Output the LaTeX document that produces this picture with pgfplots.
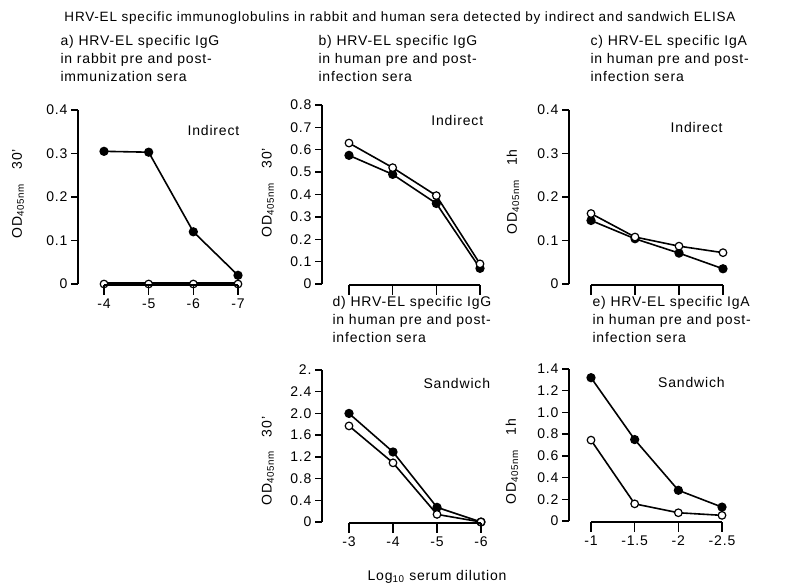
\documentclass[border=0pt]{standalone}
\usepackage{pgfplots}
\pgfplotsset{compat=1.18}
\usepackage{fontspec}
\setmainfont{Liberation Sans}[LetterSpace=6]

\newcommand{\fs}{\fontsize{14}{18}\selectfont}

\pgfplotsset{
  yaxis/.style={
    scale only axis, clip=false, anchor=south west,
    axis y line=left, axis x line=none,
    y axis line style={-, line width=1.3pt},
    ytick style={line width=1.3pt, black},
    tick align=outside, major tick length=7pt,
    ymin=0,
    every tick label/.append style={font=\fs},
    every axis y label/.style={rotate=90, anchor=center, font=\fs},
  },
  xaxis/.style={
    scale only axis, anchor=south west,
    axis x line=bottom, axis y line=none,
    x axis line style={-, line width=1.3pt},
    xtick style={line width=1.3pt, black},
    tick align=outside, major tick length=10pt,
    height=1pt, ymin=0, ymax=1, xmin=0, xmax=3,
    xtick={0,1,2,3},
    every tick label/.append style={font=\fs},
  },
  full/.style={black, line width=1.6pt, mark=*, mark size=3.8pt, mark options={solid, fill=black}},
  open/.style={black, line width=1.6pt, mark=*, mark size=3.8pt, mark options={solid, fill=white, line width=1.2pt}},
}

\begin{document}
\begin{tikzpicture}[x=1pt,y=1pt]
\useasboundingbox (0,0) rectangle (800,587);

% titles
\node[font=\fontsize{13.5}{16}\selectfont] at (400,569) {HRV-EL specific immunoglobulins in rabbit and human sera detected by indirect and sandwich ELISA};
\node[font=\fs, align=left, anchor=west] at (57,529) {a) HRV-EL specific IgG\\in rabbit pre and post-\\immunization sera};
\node[font=\fs, align=left, anchor=west] at (315,529) {b) HRV-EL specific IgG\\in human pre and post-\\infection sera};
\node[font=\fs, align=left, anchor=west] at (587,529) {c) HRV-EL specific IgA\\in human pre and post-\\infection sera};
\node[font=\fs, align=left, anchor=west] at (329,268) {d) HRV-EL specific IgG\\in human pre and post-\\infection sera};
\node[font=\fs, align=left, anchor=west] at (589,268) {e) HRV-EL specific IgA\\in human pre and post-\\infection sera};
\node[font=\fs] at (437,10) {Log\textsubscript{10} serum dilution};

% a
\begin{axis}[yaxis, at={(78pt,303pt)}, width=173.4pt, height=174pt,
  xmin=-0.582, xmax=3.3, ymax=0.4,
  ytick={0,0.1,0.2,0.3,0.4}, yticklabels={0,0.1,0.2,0.3,0.4},
  ylabel={OD\textsubscript{405nm}\quad 30'},
  ylabel style={at={(axis description cs:-0.346,0.52)}}]
\addplot[full] coordinates {(0,0.305) (1,0.303) (2,0.12) (3,0.02)};
\addplot[open, line width=3pt] coordinates {(0,0) (1,0) (2,0) (3,0)};
\node[font=\fs] at (axis cs:2.45,0.354) {Indirect};
\end{axis}
\begin{axis}[xaxis, at={(104pt,302pt)}, width=134pt, xticklabels={-4,-5,-6,-7}]
\end{axis}

% b
\begin{axis}[yaxis, at={(322pt,303pt)}, width=171.1pt, height=179pt,
  xmin=-0.618, xmax=3.3, ymax=0.8,
  ytick={0,0.1,0.2,0.3,0.4,0.5,0.6,0.7,0.8}, yticklabels={0,0.1,0.2,0.3,0.4,0.5,0.6,0.7,0.8},
  ylabel={OD\textsubscript{405nm}\quad 30'},
  ylabel style={at={(axis description cs:-0.316,0.51)}}]
\addplot[full] coordinates {(0,0.575) (1,0.49) (2,0.36) (3,0.07)};
\addplot[open] coordinates {(0,0.63) (1,0.52) (2,0.395) (3,0.09)};
\node[font=\fs] at (axis cs:2.48,0.733) {Indirect};
\end{axis}
\begin{axis}[xaxis, at={(349pt,302pt)}, width=131pt, xticklabels={,,,}]
\end{axis}

% c
\begin{axis}[yaxis, at={(569pt,303pt)}, width=167.2pt, height=174pt,
  xmin=-0.5, xmax=3.3, ymax=0.4,
  ytick={0,0.1,0.2,0.3,0.4}, yticklabels={0,0.1,0.2,0.3,0.4},
  ylabel={OD\textsubscript{405nm}\quad 1h},
  ylabel style={at={(axis description cs:-0.335,0.53)}}]
\addplot[full] coordinates {(0,0.146) (1,0.104) (2,0.071) (3,0.035)};
\addplot[open] coordinates {(0,0.162) (1,0.108) (2,0.087) (3,0.072)};
\node[font=\fs] at (axis cs:2.4,0.359) {Indirect};
\end{axis}
\begin{axis}[xaxis, at={(591pt,302pt)}, width=132pt, xticklabels={,,,}]
\end{axis}

% d
\begin{axis}[yaxis, at={(322pt,65pt)}, width=172.2pt, height=152pt,
  xmin=-0.614, xmax=3.3, ymax=2.8,
  ytick={0,0.4,0.8,1.2,1.6,2.0,2.4,2.8}, yticklabels={0,0.4,0.8,1.2,1.6,2.0,2.4,2.},
  ylabel={OD\textsubscript{405nm}\quad 30'},
  ylabel style={at={(axis description cs:-0.314,0.40)}}]
\addplot[full] coordinates {(0,2.0) (1,1.29) (2,0.27) (3,0)};
\addplot[open] coordinates {(0,1.77) (1,1.09) (2,0.14) (3,0)};
\node[font=\fs] at (axis cs:2.45,2.55) {Sandwich};
\end{axis}
\begin{axis}[xaxis, at={(349pt,64pt)}, width=132pt, xticklabels={-3,-4,-5,-6}]
\end{axis}

% e
\begin{axis}[yaxis, at={(569pt,66pt)}, width=166.1pt, height=152pt,
  xmin=-0.504, xmax=3.3, ymax=1.4,
  ytick={0,0.2,0.4,0.6,0.8,1.0,1.2,1.4}, yticklabels={0,0.2,0.4,0.6,0.8,1.0,1.2,1.4},
  ylabel={OD\textsubscript{405nm}\quad 1h},
  ylabel style={at={(axis description cs:-0.343,0.39)}}]
\addplot[full] coordinates {(0,1.32) (1,0.75) (2,0.283) (3,0.128)};
\addplot[open] coordinates {(0,0.745) (1,0.158) (2,0.076) (3,0.052)};
\node[font=\fs] at (axis cs:2.3,1.28) {Sandwich};
\end{axis}
\begin{axis}[xaxis, at={(591pt,65pt)}, width=131pt, xticklabels={-1,-1.5,-2,-2.5}]
\end{axis}

\end{tikzpicture}
\end{document}
